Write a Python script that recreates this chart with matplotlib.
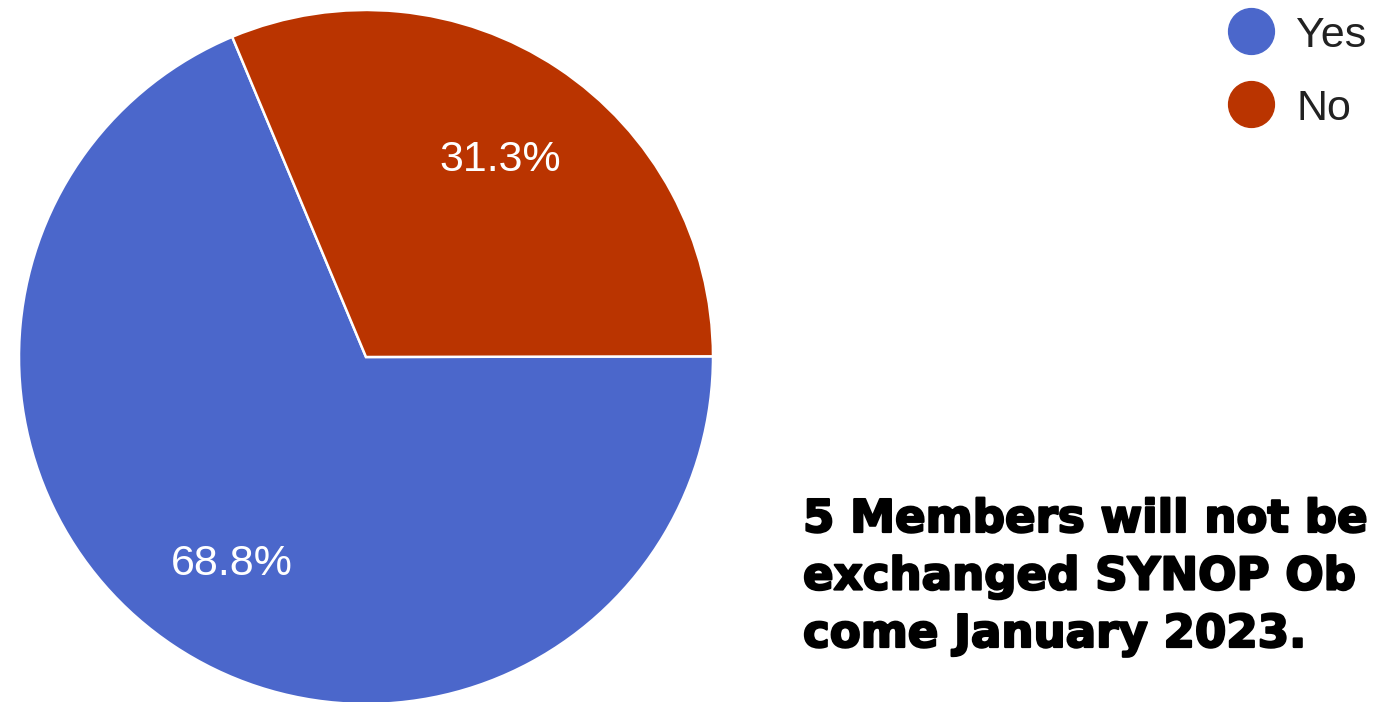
import matplotlib.pyplot as plt
import matplotlib.transforms as mtransforms
import matplotlib.patheffects as pe
from matplotlib.lines import Line2D

# Survey answers
labels = ["Yes", "No"]
shares = [68.8, 31.3]
colors = ["#4B67CB", "#BA3400"]
note_lines = ["5 Members will not be", "exchanged SYNOP Ob", "come January 2023."]

W, H = 1376, 702
fig = plt.figure(figsize=(W / 100, H / 100), dpi=100)
fig.patch.set_facecolor("white")

# pie area in pixels: x 18..714, y 10..704 (from top)
ax = fig.add_axes([18 / W, (H - 704) / H, 696 / W, 694 / H])
wedges, texts = ax.pie(
    shares, colors=colors, startangle=112.68, counterclock=True,
    labels=[f"{v:.1f}%" for v in shares], labeldistance=0.70,
    wedgeprops=dict(edgecolor="white", linewidth=1.8),
    textprops=dict(color="white", fontsize=31, family="Liberation Sans"),
)
shift = mtransforms.offset_copy(ax.transData, fig=fig, x=0, y=-5, units="dots")
for t in texts:
    t.set_ha("center")
    t.set_va("center")
    t.set_transform(shift)
ax.set_xlim(-1, 1)
ax.set_ylim(-1, 1)
ax.set_aspect("equal")
ax.axis("off")

# legend drawn by hand at the top right
for i, (lab, col) in enumerate(zip(labels, colors)):
    yc = 1 - (31 + i * 73) / H
    fig.add_artist(Line2D([1251 / W], [yc], marker="o", markersize=33,
                          markerfacecolor=col, markeredgecolor=col,
                          transform=fig.transFigure))
    fig.text(1296 / W, 1 - (47 + i * 73) / H, lab, fontsize=31, color="#222222",
             family="Liberation Sans", va="baseline", ha="left")

# bold note, runs off the right edge; a thin stroke makes it heavier
heavy = [pe.withStroke(linewidth=1.6, foreground="black")]
for i, line in enumerate(note_lines):
    fig.text(803 / W, 1 - (532 + i * 57.5) / H, line, fontsize=32.5,
             family="DejaVu Sans", fontweight="bold",
             color="black", va="baseline", ha="left", path_effects=heavy)

fig.savefig("out.png", dpi=100)
